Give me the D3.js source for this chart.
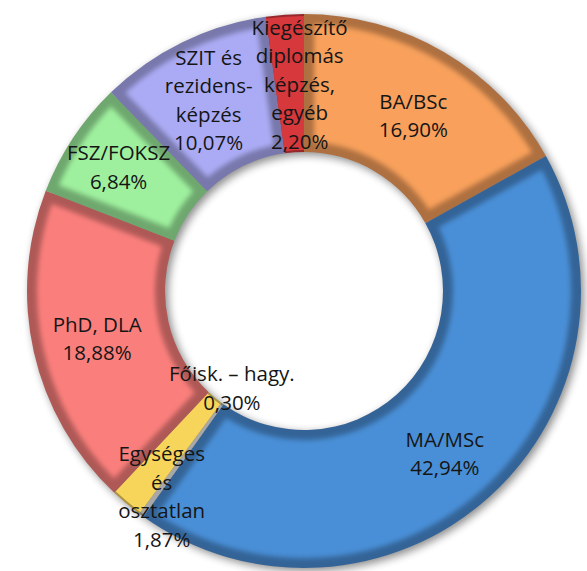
<!DOCTYPE html>
<html>
<head>
<meta charset="utf-8">
<script src="https://cdn.jsdelivr.net/npm/d3@7"></script>
<style>
  body { margin: 0; background: #fff; }
  text { font-family: "Open Sans", Lato, sans-serif; }
</style>
</head>
<body>
<svg width="587" height="571"></svg>
<script>
// kategoriak es ertekek (%)
var categories = ["BA/BSc", "MA/MSc", "Főisk. – hagy.", "Egységes és osztatlan", "PhD, DLA", "FSZ/FOKSZ", "SZIT és rezidens-képzés", "Kiegészítő diplomás képzés, egyéb"];
var values = [16.90, 42.94, 0.30, 1.87, 18.88, 6.84, 10.07, 2.20];
var labelLines = [["BA/BSc"], ["MA/MSc"], ["Főisk. – hagy."], ["Egységes", "és", "osztatlan"], ["PhD, DLA"], ["FSZ/FOKSZ"], ["SZIT és", "rezidens-", "képzés"], ["Kiegészítő", "diplomás", "képzés,", "egyéb"]];
var colors = ["#F8A05C", "#4A8FD7", "#A8A8A8", "#F7D55B", "#FA7F7C", "#9EF09E", "#ABABF5", "#D6383C"];

// cimke eltolasok (Excel igy rakta ki)
var nudge = [[4, 4], [2, 8], [50, -71], [-9, 46], [-4, 2], [-12, -9], [-4, -4], [10, 1]];

var svg = d3.select("svg"),
    cx = 304, cy = 291,
    outerR = 277, innerR = 139,
    bevel = 10,
    lineH = 28.5;

var defs = svg.append("defs");
defs.append("filter").attr("id", "soft")
    .attr("x", "-20%").attr("y", "-20%").attr("width", "140%").attr("height", "140%")
    .append("feGaussianBlur").attr("stdDeviation", 2.5);
defs.append("filter").attr("id", "shadow")
    .attr("x", "-20%").attr("y", "-20%").attr("width", "140%").attr("height", "140%")
    .append("feGaussianBlur").attr("stdDeviation", 4);

var pie = d3.pie().sort(null).value(function(d) { return d; });
var arcs = pie(values);

var arc = d3.arc().innerRadius(innerR).outerRadius(outerR);
var arcIn = d3.arc()
    .innerRadius(innerR + bevel)
    .outerRadius(outerR - bevel)
    .padRadius(200)
    .padAngle(2 * bevel / 200);
var arcMid = d3.arc().innerRadius(innerR).outerRadius(outerR);

var g = svg.append("g").attr("transform", "translate(" + cx + "," + cy + ")");

// arnyek
g.append("path")
    .attr("d", d3.arc().innerRadius(innerR).outerRadius(outerR).startAngle(0).endAngle(2 * Math.PI)())
    .attr("transform", "translate(3,3)")
    .attr("fill", "#000")
    .attr("opacity", 0.45)
    .attr("filter", "url(#shadow)");

var slices = g.selectAll("g.slice")
    .data(arcs)
    .enter().append("g")
    .attr("class", "slice");

slices.append("path")
    .attr("d", arc)
    .attr("fill", function(d, i) { return d3.color(colors[i]).darker(1.0); });

slices.filter(function(d) { return (d.endAngle - d.startAngle) * innerR > 3 * bevel; })
    .append("path")
    .attr("d", arcIn)
    .attr("fill", function(d) { return colors[values.indexOf(d.value)]; })
    .attr("filter", "url(#soft)");

// vekony szeletek sima szinnel
slices.filter(function(d) { return (d.endAngle - d.startAngle) * innerR <= 3 * bevel; })
    .append("path")
    .attr("d", d3.arc().innerRadius(innerR + 2).outerRadius(outerR - 2))
    .attr("fill", function(d) { return colors[values.indexOf(d.value)]; });

// cimkek
var fmt = d3.format(".2f");
var labels = g.selectAll("text.lbl")
    .data(arcs)
    .enter().append("text")
    .attr("class", "lbl")
    .attr("text-anchor", "middle")
    .attr("font-size", "20.5px")
    .attr("fill", "#151515")
    .attr("transform", function(d, i) {
        var c = arcMid.centroid(d);
        return "translate(" + (c[0] + nudge[i][0]) + "," + (c[1] + nudge[i][1]) + ")";
    });

labels.each(function(d, i) {
    var lines = labelLines[i].concat([fmt(d.value).replace(".", ",") + "%"]);
    var t = d3.select(this);
    var y0 = -(lines.length - 1) * lineH / 2;
    lines.forEach(function(s, k) {
        t.append("tspan")
            .attr("x", 0)
            .attr("y", y0 + k * lineH)
            .attr("dy", "0.35em")
            .text(s);
    });
});
</script>
</body>
</html>
